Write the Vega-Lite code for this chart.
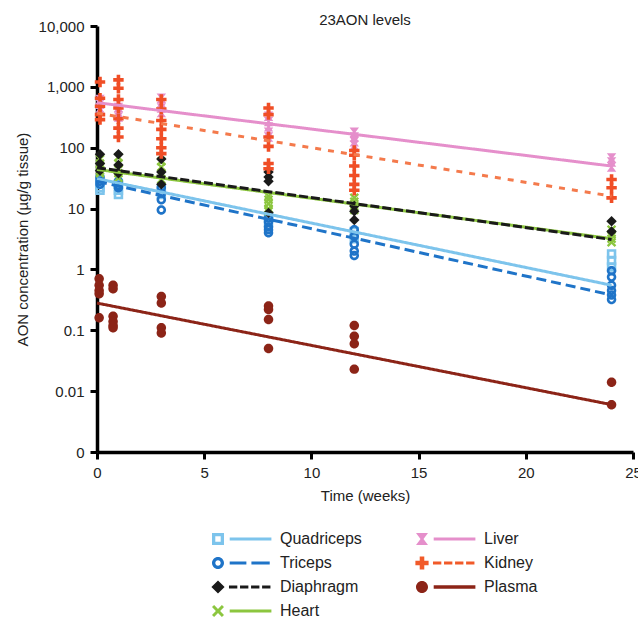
{
  "$schema": "https://vega.github.io/schema/vega-lite/v6.json",
  "width": 536,
  "height": 426,
  "autosize": {"type": "none"},
  "padding": {"left": 97, "top": 26, "right": 5, "bottom": 166},
  "background": "white",
  "title": {"text": "23AON levels", "font": "Liberation Sans", "fontSize": 15, "fontWeight": "normal", "color": "#222", "anchor": "middle", "offset": -9},
  "config": {
    "view": {"stroke": null},
    "axis": {
      "grid": false,
      "domainColor": "#000",
      "domainWidth": 3.5,
      "tickColor": "#000",
      "tickWidth": 3,
      "tickSize": 7,
      "labelFont": "Liberation Sans",
      "labelFontSize": 15,
      "labelColor": "#222",
      "labelPadding": 6,
      "labelFlush": false,
      "labelOverlap": false,
      "titleFont": "Liberation Sans",
      "titleFontSize": 15,
      "titleFontWeight": "normal",
      "titleColor": "#222",
      "titlePadding": 8
    }
  },
  "datasets": {
    "points": [
      {"organ": "Quadriceps", "week": 0.14, "value": 30},
      {"organ": "Quadriceps", "week": 0.14, "value": 25},
      {"organ": "Quadriceps", "week": 0.14, "value": 22},
      {"organ": "Quadriceps", "week": 0.14, "value": 20},
      {"organ": "Quadriceps", "week": 1, "value": 25},
      {"organ": "Quadriceps", "week": 1, "value": 20},
      {"organ": "Quadriceps", "week": 1, "value": 17},
      {"organ": "Quadriceps", "week": 3, "value": 21},
      {"organ": "Quadriceps", "week": 3, "value": 17},
      {"organ": "Quadriceps", "week": 8, "value": 7.5},
      {"organ": "Quadriceps", "week": 8, "value": 6},
      {"organ": "Quadriceps", "week": 12, "value": 4.2},
      {"organ": "Quadriceps", "week": 12, "value": 3.2},
      {"organ": "Quadriceps", "week": 24, "value": 1.8},
      {"organ": "Quadriceps", "week": 24, "value": 1.4},
      {"organ": "Quadriceps", "week": 24, "value": 1.1},
      {"organ": "Triceps", "week": 0.14, "value": 32},
      {"organ": "Triceps", "week": 0.14, "value": 28},
      {"organ": "Triceps", "week": 0.14, "value": 25},
      {"organ": "Triceps", "week": 1, "value": 28},
      {"organ": "Triceps", "week": 1, "value": 24},
      {"organ": "Triceps", "week": 1, "value": 22},
      {"organ": "Triceps", "week": 3, "value": 22},
      {"organ": "Triceps", "week": 3, "value": 18},
      {"organ": "Triceps", "week": 3, "value": 14},
      {"organ": "Triceps", "week": 3, "value": 9.5},
      {"organ": "Triceps", "week": 8, "value": 7},
      {"organ": "Triceps", "week": 8, "value": 6},
      {"organ": "Triceps", "week": 8, "value": 5},
      {"organ": "Triceps", "week": 8, "value": 4.5},
      {"organ": "Triceps", "week": 8, "value": 4},
      {"organ": "Triceps", "week": 12, "value": 4.5},
      {"organ": "Triceps", "week": 12, "value": 3.5},
      {"organ": "Triceps", "week": 12, "value": 2.6},
      {"organ": "Triceps", "week": 12, "value": 2.0},
      {"organ": "Triceps", "week": 12, "value": 1.7},
      {"organ": "Triceps", "week": 24, "value": 0.95},
      {"organ": "Triceps", "week": 24, "value": 0.75},
      {"organ": "Triceps", "week": 24, "value": 0.55},
      {"organ": "Triceps", "week": 24, "value": 0.45},
      {"organ": "Triceps", "week": 24, "value": 0.38},
      {"organ": "Triceps", "week": 24, "value": 0.32},
      {"organ": "Heart", "week": 0.14, "value": 65},
      {"organ": "Heart", "week": 0.14, "value": 55},
      {"organ": "Heart", "week": 0.14, "value": 48},
      {"organ": "Heart", "week": 0.14, "value": 42},
      {"organ": "Heart", "week": 0.14, "value": 38},
      {"organ": "Heart", "week": 1, "value": 70},
      {"organ": "Heart", "week": 1, "value": 55},
      {"organ": "Heart", "week": 1, "value": 45},
      {"organ": "Heart", "week": 1, "value": 38},
      {"organ": "Heart", "week": 1, "value": 32},
      {"organ": "Heart", "week": 3, "value": 60},
      {"organ": "Heart", "week": 3, "value": 48},
      {"organ": "Heart", "week": 3, "value": 38},
      {"organ": "Heart", "week": 3, "value": 30},
      {"organ": "Heart", "week": 8, "value": 16},
      {"organ": "Heart", "week": 8, "value": 14},
      {"organ": "Heart", "week": 8, "value": 12},
      {"organ": "Heart", "week": 8, "value": 10},
      {"organ": "Heart", "week": 8, "value": 9},
      {"organ": "Heart", "week": 12, "value": 15},
      {"organ": "Heart", "week": 12, "value": 13},
      {"organ": "Heart", "week": 12, "value": 11},
      {"organ": "Heart", "week": 12, "value": 9.5},
      {"organ": "Heart", "week": 24, "value": 4.5},
      {"organ": "Heart", "week": 24, "value": 3.8},
      {"organ": "Heart", "week": 24, "value": 3.2},
      {"organ": "Heart", "week": 24, "value": 2.8},
      {"organ": "Diaphragm", "week": 0.14, "value": 78},
      {"organ": "Diaphragm", "week": 0.14, "value": 55},
      {"organ": "Diaphragm", "week": 0.14, "value": 42},
      {"organ": "Diaphragm", "week": 1, "value": 78},
      {"organ": "Diaphragm", "week": 1, "value": 52},
      {"organ": "Diaphragm", "week": 1, "value": 38},
      {"organ": "Diaphragm", "week": 3, "value": 65},
      {"organ": "Diaphragm", "week": 3, "value": 40},
      {"organ": "Diaphragm", "week": 3, "value": 25},
      {"organ": "Diaphragm", "week": 8, "value": 40},
      {"organ": "Diaphragm", "week": 8, "value": 33},
      {"organ": "Diaphragm", "week": 8, "value": 28},
      {"organ": "Diaphragm", "week": 8, "value": 8.5},
      {"organ": "Diaphragm", "week": 12, "value": 11},
      {"organ": "Diaphragm", "week": 12, "value": 9},
      {"organ": "Diaphragm", "week": 12, "value": 6.5},
      {"organ": "Diaphragm", "week": 24, "value": 6.2},
      {"organ": "Diaphragm", "week": 24, "value": 4.2},
      {"organ": "Liver", "week": 0.14, "value": 620},
      {"organ": "Liver", "week": 0.14, "value": 520},
      {"organ": "Liver", "week": 0.14, "value": 450},
      {"organ": "Liver", "week": 0.14, "value": 400},
      {"organ": "Liver", "week": 1, "value": 550},
      {"organ": "Liver", "week": 1, "value": 460},
      {"organ": "Liver", "week": 1, "value": 380},
      {"organ": "Liver", "week": 1, "value": 320},
      {"organ": "Liver", "week": 3, "value": 650},
      {"organ": "Liver", "week": 3, "value": 550},
      {"organ": "Liver", "week": 3, "value": 450},
      {"organ": "Liver", "week": 3, "value": 380},
      {"organ": "Liver", "week": 8, "value": 330},
      {"organ": "Liver", "week": 8, "value": 270},
      {"organ": "Liver", "week": 8, "value": 220},
      {"organ": "Liver", "week": 8, "value": 180},
      {"organ": "Liver", "week": 8, "value": 150},
      {"organ": "Liver", "week": 12, "value": 180},
      {"organ": "Liver", "week": 12, "value": 150},
      {"organ": "Liver", "week": 12, "value": 125},
      {"organ": "Liver", "week": 12, "value": 110},
      {"organ": "Liver", "week": 24, "value": 68},
      {"organ": "Liver", "week": 24, "value": 58},
      {"organ": "Liver", "week": 24, "value": 48},
      {"organ": "Kidney", "week": 0.14, "value": 1200},
      {"organ": "Kidney", "week": 0.14, "value": 650},
      {"organ": "Kidney", "week": 0.14, "value": 480},
      {"organ": "Kidney", "week": 0.14, "value": 350},
      {"organ": "Kidney", "week": 0.14, "value": 290},
      {"organ": "Kidney", "week": 1, "value": 1300},
      {"organ": "Kidney", "week": 1, "value": 950},
      {"organ": "Kidney", "week": 1, "value": 620},
      {"organ": "Kidney", "week": 1, "value": 450},
      {"organ": "Kidney", "week": 1, "value": 300},
      {"organ": "Kidney", "week": 1, "value": 210},
      {"organ": "Kidney", "week": 1, "value": 150},
      {"organ": "Kidney", "week": 3, "value": 620},
      {"organ": "Kidney", "week": 3, "value": 430},
      {"organ": "Kidney", "week": 3, "value": 280},
      {"organ": "Kidney", "week": 3, "value": 200},
      {"organ": "Kidney", "week": 3, "value": 140},
      {"organ": "Kidney", "week": 3, "value": 100},
      {"organ": "Kidney", "week": 3, "value": 80},
      {"organ": "Kidney", "week": 8, "value": 450},
      {"organ": "Kidney", "week": 8, "value": 350},
      {"organ": "Kidney", "week": 8, "value": 150},
      {"organ": "Kidney", "week": 8, "value": 105},
      {"organ": "Kidney", "week": 8, "value": 55},
      {"organ": "Kidney", "week": 8, "value": 45},
      {"organ": "Kidney", "week": 12, "value": 90},
      {"organ": "Kidney", "week": 12, "value": 75},
      {"organ": "Kidney", "week": 12, "value": 50},
      {"organ": "Kidney", "week": 12, "value": 35},
      {"organ": "Kidney", "week": 12, "value": 25},
      {"organ": "Kidney", "week": 12, "value": 20},
      {"organ": "Kidney", "week": 24, "value": 30},
      {"organ": "Kidney", "week": 24, "value": 22},
      {"organ": "Kidney", "week": 24, "value": 15},
      {"organ": "Plasma", "week": 0.1, "value": 0.7},
      {"organ": "Plasma", "week": 0.1, "value": 0.55},
      {"organ": "Plasma", "week": 0.1, "value": 0.45},
      {"organ": "Plasma", "week": 0.1, "value": 0.4},
      {"organ": "Plasma", "week": 0.1, "value": 0.16},
      {"organ": "Plasma", "week": 0.75, "value": 0.55},
      {"organ": "Plasma", "week": 0.75, "value": 0.48},
      {"organ": "Plasma", "week": 0.75, "value": 0.17},
      {"organ": "Plasma", "week": 0.75, "value": 0.14},
      {"organ": "Plasma", "week": 0.75, "value": 0.12},
      {"organ": "Plasma", "week": 0.75, "value": 0.11},
      {"organ": "Plasma", "week": 3, "value": 0.36},
      {"organ": "Plasma", "week": 3, "value": 0.28},
      {"organ": "Plasma", "week": 3, "value": 0.11},
      {"organ": "Plasma", "week": 3, "value": 0.09},
      {"organ": "Plasma", "week": 8, "value": 0.25},
      {"organ": "Plasma", "week": 8, "value": 0.22},
      {"organ": "Plasma", "week": 8, "value": 0.15},
      {"organ": "Plasma", "week": 8, "value": 0.05},
      {"organ": "Plasma", "week": 12, "value": 0.12},
      {"organ": "Plasma", "week": 12, "value": 0.08},
      {"organ": "Plasma", "week": 12, "value": 0.06},
      {"organ": "Plasma", "week": 12, "value": 0.023},
      {"organ": "Plasma", "week": 24, "value": 0.014},
      {"organ": "Plasma", "week": 24, "value": 0.006}
    ],
    "fits": [
      {"organ": "Quadriceps", "week": 0, "value": 31},
      {"organ": "Quadriceps", "week": 24, "value": 0.55},
      {"organ": "Triceps", "week": 0, "value": 28},
      {"organ": "Triceps", "week": 24, "value": 0.38},
      {"organ": "Heart", "week": 0, "value": 44},
      {"organ": "Heart", "week": 24, "value": 3.2},
      {"organ": "Diaphragm", "week": 0, "value": 47},
      {"organ": "Diaphragm", "week": 24, "value": 3.1},
      {"organ": "Liver", "week": 0, "value": 550},
      {"organ": "Liver", "week": 24, "value": 50},
      {"organ": "Kidney", "week": 0, "value": 370},
      {"organ": "Kidney", "week": 24, "value": 16},
      {"organ": "Plasma", "week": 0, "value": 0.28},
      {"organ": "Plasma", "week": 24, "value": 0.006}
    ]
  },
  "layer": [
    {
      "data": {"name": "points"},
      "mark": {"type": "point", "filled": true, "opacity": 1, "size": 90, "strokeWidth": 0},
      "encoding": {
        "x": {"field": "week", "type": "quantitative", "scale": {"domain": [0, 25], "nice": false, "zero": false},
              "axis": {"values": [0, 5, 10, 15, 20, 25], "title": "Time (weeks)"}},
        "y": {"field": "value", "type": "quantitative", "scale": {"type": "log", "domain": [0.001, 10000], "nice": false},
              "axis": {"values": [0.001, 0.01, 0.1, 1, 10, 100, 1000, 10000], "labelExpr": "datum.value < 0.005 ? '0' : format(datum.value, ',')", "title": "AON concentration (µg/g tissue)"}},
        "color": {"field": "organ", "type": "nominal", "legend": null,
                  "scale": {"domain": ["Quadriceps", "Triceps", "Diaphragm", "Heart", "Liver", "Kidney", "Plasma"],
                            "range": ["#7dc4ec", "#1f74c8", "#1a1a1a", "#8cc63f", "#e58fcb", "#f04e26", "#8c2417"]}},
        "shape": {"field": "organ", "type": "nominal", "legend": null,
                  "scale": {"domain": ["Quadriceps", "Triceps", "Diaphragm", "Heart", "Liver", "Kidney", "Plasma"],
                            "range": [
                              "M-1,-1H1V1H-1Z M-0.45,-0.45V0.45H0.45V-0.45Z",
                              "M-1,0A1,1 0 1,1 1,0A1,1 0 1,1 -1,0Z M-0.45,0A0.45,0.45 0 1,0 0.45,0A0.45,0.45 0 1,0 -0.45,0Z",
                              "M0,-1.1L1.1,0L0,1.1L-1.1,0Z",
                              "M-1,-0.65L-0.65,-1L0,-0.35L0.65,-1L1,-0.65L0.35,0L1,0.65L0.65,1L0,0.35L-0.65,1L-1,0.65L-0.35,0Z",
                              "M-1,-1H1L0.25,0L1,1H-1L-0.25,0Z",
                              "M-0.38,-1.1H0.38V-0.38H1.1V0.38H0.38V1.1H-0.38V0.38H-1.1V-0.38H-0.38Z",
                              "M-1,0A1,1 0 1,1 1,0A1,1 0 1,1 -1,0Z"
                            ]}}
      }
    },
    {
      "data": {"name": "fits"},
      "mark": {"type": "line", "strokeWidth": 3},
      "encoding": {
        "x": {"field": "week", "type": "quantitative"},
        "y": {"field": "value", "type": "quantitative"},
        "color": {"field": "organ", "type": "nominal", "legend": null,
                  "scale": {"domain": ["Quadriceps", "Triceps", "Diaphragm", "Heart", "Liver", "Kidney", "Plasma"],
                            "range": ["#7dc4ec", "#1f74c8", "#1a1a1a", "#8cc63f", "#e58fcb", "#f47a4c", "#8c2417"]}},
        "strokeDash": {"field": "organ", "type": "nominal", "legend": null,
                       "scale": {"domain": ["Quadriceps", "Triceps", "Diaphragm", "Heart", "Liver", "Kidney", "Plasma"],
                                 "range": [[1, 0], [10, 5], [9, 3], [1, 0], [1, 0], [6, 7], [1, 0]]}}
      }
    },
    {
      "data": {"name": "fits"},
      "transform": [{"filter": "datum.value < 0"}],
      "mark": {"type": "point", "filled": true, "opacity": 1, "strokeWidth": 0},
      "encoding": {
        "x": {"field": "week", "type": "quantitative"},
        "y": {"field": "value", "type": "quantitative"},
        "color": {"field": "organ", "type": "nominal",
                  "scale": {"domain": ["Quadriceps", "Triceps", "Diaphragm", "Heart", "Liver", "Kidney", "Plasma"],
                            "range": ["#7dc4ec", "#1f74c8", "#1a1a1a", "#8cc63f", "#e58fcb", "#f15a29", "#8c2417"]},
                  "legend": {"title": null, "orient": "none", "legendX": 113, "legendY": 505, "columns": 2, "columnPadding": 52, "rowPadding": 8, "padding": 0,
                             "labelFont": "Liberation Sans", "labelFontSize": 16, "labelColor": "#222", "labelLimit": 250, "symbolSize": 144, "labelOffset": 54, "symbolStrokeWidth": 0, "symbolOpacity": 1}},
        "shape": {"field": "organ", "type": "nominal",
                  "scale": {"domain": ["Quadriceps", "Triceps", "Diaphragm", "Heart", "Liver", "Kidney", "Plasma"],
                            "range": [
                              "M-1,-1H1V1H-1Z M-0.45,-0.45V0.45H0.45V-0.45Z M1.95,-0.25H8.9V0.25H1.95Z",
                              "M-1,0A1,1 0 1,1 1,0A1,1 0 1,1 -1,0Z M-0.45,0A0.45,0.45 0 1,0 0.45,0A0.45,0.45 0 1,0 -0.45,0Z M1.95,-0.25H4.73V0.25H1.95Z M5.57,-0.25H8.62V0.25H5.57Z",
                              "M0,-1.1L1.1,0L0,1.1L-1.1,0Z M1.83,-0.25H3.22V0.25H1.83Z M3.67,-0.25H5.06V0.25H3.67Z M5.51,-0.25H6.9V0.25H5.51Z M7.35,-0.25H8.74V0.25H7.35Z",
                              "M-1,-0.65L-0.65,-1L0,-0.35L0.65,-1L1,-0.65L0.35,0L1,0.65L0.65,1L0,0.35L-0.65,1L-1,0.65L-0.35,0Z M1.95,-0.25H8.9V0.25H1.95Z",
                              "M-1,-1H1L0.25,0L1,1H-1L-0.25,0Z M1.95,-0.25H8.9V0.25H1.95Z",
                              "M-0.38,-1.1H0.38V-0.38H1.1V0.38H0.38V1.1H-0.38V0.38H-1.1V-0.38H-0.38Z M1.83,-0.25H3.22V0.25H1.83Z M3.67,-0.25H5.06V0.25H3.67Z M5.51,-0.25H6.9V0.25H5.51Z M7.35,-0.25H8.74V0.25H7.35Z",
                              "M-1,0A1,1 0 1,1 1,0A1,1 0 1,1 -1,0Z M1.95,-0.3H8.9V0.3H1.95Z"
                            ]},
                  "legend": {"title": null, "orient": "none", "legendX": 113, "legendY": 505, "columns": 2, "columnPadding": 52, "rowPadding": 8, "padding": 0,
                             "labelFont": "Liberation Sans", "labelFontSize": 16, "labelColor": "#222", "labelLimit": 250, "symbolSize": 144, "labelOffset": 54, "symbolStrokeWidth": 0, "symbolOpacity": 1}}
      }
    }
  ],
  "resolve": {"scale": {"color": "independent", "shape": "independent", "strokeDash": "independent"}}
}
